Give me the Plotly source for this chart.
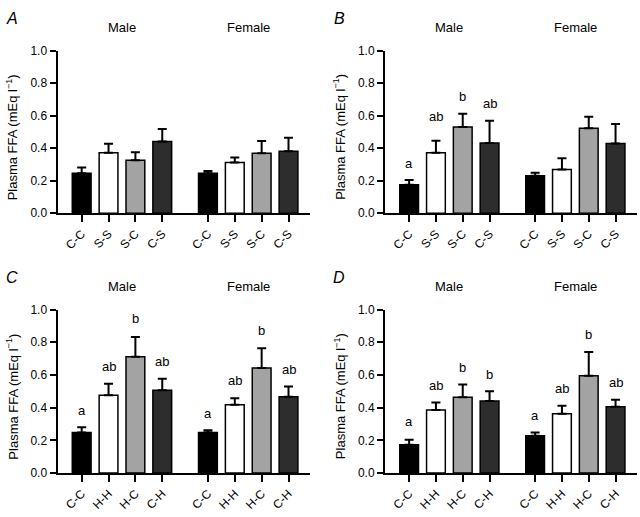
import plotly.graph_objects as go

# ---------------- data ----------------
positions = [0, 1, 2, 3, 4.7, 5.7, 6.7, 7.7]
labels_S = ["C-C", "S-S", "S-C", "C-S", "C-C", "S-S", "S-C", "C-S"]
labels_H = ["C-C", "H-H", "H-C", "C-H", "C-C", "H-H", "H-C", "C-H"]

mean_A = [0.247, 0.373, 0.327, 0.442, 0.247, 0.312, 0.369, 0.381]
sem_A = [0.035, 0.055, 0.048, 0.077, 0.013, 0.031, 0.075, 0.084]
letters_A = ["", "", "", "", "", "", "", ""]
lety_A = [0, 0, 0, 0, 0, 0, 0, 0]

mean_B = [0.175, 0.372, 0.531, 0.433, 0.231, 0.270, 0.523, 0.429]
sem_B = [0.030, 0.075, 0.081, 0.136, 0.018, 0.068, 0.071, 0.120]
letters_B = ["a", "ab", "b", "ab", "", "", "", ""]
lety_B = [0.274, 0.563, 0.682, 0.640, 0, 0, 0, 0]

mean_C = [0.248, 0.476, 0.712, 0.506, 0.248, 0.417, 0.643, 0.466]
sem_C = [0.032, 0.070, 0.121, 0.071, 0.014, 0.041, 0.121, 0.064]
letters_C = ["a", "ab", "b", "ab", "a", "ab", "b", "ab"]
lety_C = [0.351, 0.621, 0.911, 0.649, 0.331, 0.530, 0.837, 0.597]

mean_D = [0.173, 0.385, 0.464, 0.440, 0.228, 0.363, 0.595, 0.405]
sem_D = [0.031, 0.046, 0.078, 0.060, 0.020, 0.048, 0.145, 0.043]
letters_D = ["a", "ab", "b", "b", "a", "ab", "b", "ab"]
lety_D = [0.280, 0.500, 0.613, 0.569, 0.319, 0.482, 0.815, 0.518]

group_titles = ["Male", "Female"]
panel_letters = ["A", "B", "C", "D"]
y_title = "Plasma FFA (mEq l<sup>−1</sup>)"

bar_colors = ["#000000", "#ffffff", "#a3a3a3", "#2d2d2d"] * 2

# ---------------- layout geometry ----------------
W, H = 640, 517
FONT = "Liberation Sans, Arial, sans-serif"

def px_x(p):
    return p / W

def px_y(p):
    return 1 - p / H

panels = [
    dict(mean=mean_A, sem=sem_A, let=letters_A, ly=lety_A, lab=labels_S,
         x0=57.5, x1=310, y0=45, y1=212),
    dict(mean=mean_B, sem=sem_B, let=letters_B, ly=lety_B, lab=labels_S,
         x0=385, x1=637, y0=45, y1=212),
    dict(mean=mean_C, sem=sem_C, let=letters_C, ly=lety_C, lab=labels_H,
         x0=57.5, x1=310, y0=311, y1=479),
    dict(mean=mean_D, sem=sem_D, let=letters_D, ly=lety_D, lab=labels_H,
         x0=385, x1=637, y0=311, y1=479),
]

fig = go.Figure()
annotations = []
layout = {}

for i, p in enumerate(panels):
    k = "" if i == 0 else str(i + 1)
    xa = "x" + k
    ya = "y" + k
    fig.add_trace(go.Bar(
        x=positions, y=p["mean"], width=0.7,
        marker=dict(color=bar_colors, line=dict(color="black", width=1.5)),
        error_y=dict(type="data", array=p["sem"], arrayminus=[0] * 8,
                     symmetric=False, color="black", thickness=2, width=4.5),
        xaxis=xa, yaxis=ya, showlegend=False, hoverinfo="skip",
    ))
    layout["xaxis" + k] = dict(
        domain=[px_x(p["x0"]), px_x(p["x1"])], anchor=ya,
        range=[-0.9, 8.5], tickmode="array", tickvals=positions,
        ticktext=p["lab"], tickangle=-45, ticks="outside", ticklen=7,
        tickwidth=2, tickcolor="black", showline=True, linewidth=2,
        linecolor="black", showgrid=False, zeroline=False,
        tickfont=dict(family=FONT, size=12, color="black"), fixedrange=True,
    )
    layout["yaxis" + k] = dict(
        domain=[px_y(p["y1"]), px_y(p["y0"])], anchor=xa,
        range=[0, 1.0], tickmode="linear", tick0=0, dtick=0.2,
        tickformat=".1f", ticks="outside", ticklen=6, tickwidth=2,
        tickcolor="black", showline=True, linewidth=2, linecolor="black",
        showgrid=False, zeroline=False,
        tickfont=dict(family=FONT, size=12, color="black"), fixedrange=True,
    )
    # significance letters
    for xpos, t, yv in zip(positions, p["let"], p["ly"]):
        if t:
            annotations.append(dict(
                x=xpos, y=yv, xref=xa, yref=ya, text=t, showarrow=False,
                yanchor="bottom", xanchor="center", yshift=-4,
                font=dict(family=FONT, size=13, color="black")))
    # group titles
    for g, (a, b) in zip(group_titles, [(0, 3), (4.7, 7.7)]):
        annotations.append(dict(
            x=(a + b) / 2, y=px_y(p["y0"] - 23.5), xref=xa, yref="paper",
            text=g, showarrow=False, xanchor="center", yanchor="middle",
            font=dict(family=FONT, size=13, color="black")))
    # y axis title
    annotations.append(dict(
        x=px_x(p["x0"] - 45.5), y=px_y((p["y0"] + p["y1"]) / 2 + 5.5),
        xref="paper", yref="paper", text=y_title, textangle=-90,
        showarrow=False, xanchor="center", yanchor="middle",
        font=dict(family=FONT, size=13, color="black")))
    # panel letter
    annotations.append(dict(
        x=px_x(p["x0"] - 46), y=px_y(p["y0"] - 33), xref="paper", yref="paper",
        text="<i>" + panel_letters[i] + "</i>", showarrow=False,
        xanchor="center", yanchor="middle",
        font=dict(family=FONT, size=16, color="black")))

fig.update_layout(
    width=W, height=H, margin=dict(l=0, r=0, t=0, b=0),
    paper_bgcolor="white", plot_bgcolor="white",
    annotations=annotations, bargap=0, **layout,
)

fig.write_html(
    "out.html",
    config={"displayModeBar": False, "staticPlot": True},
    post_script="document.body.style.margin='0px';document.body.style.overflow='hidden';",
)
